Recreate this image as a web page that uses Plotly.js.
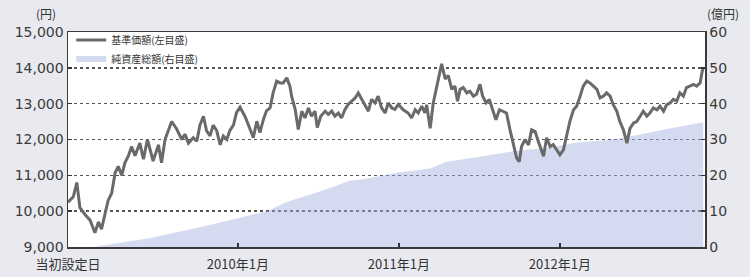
<!DOCTYPE html>
<html>
<head>
<meta charset="utf-8">
<script src="https://cdn.plot.ly/plotly-3.0.1.min.js"></script>
<style>
html,body{margin:0;padding:0;background:#e9eaf0;}
#chart{width:750px;height:277px;}
</style>
</head>
<body>
<div id="chart"></div>
<script>
const navDates = ["2008-12-12","2008-12-24","2009-01-01","2009-01-08","2009-01-20","2009-01-31","2009-02-11","2009-02-19","2009-02-26","2009-03-06","2009-03-13","2009-03-21","2009-03-29","2009-04-05","2009-04-13","2009-04-20","2009-04-28","2009-05-05","2009-05-13","2009-05-24","2009-06-01","2009-06-10","2009-06-16","2009-06-23","2009-07-05","2009-07-12","2009-07-20","2009-07-27","2009-08-04","2009-08-15","2009-08-27","2009-09-03","2009-09-11","2009-09-22","2009-09-30","2009-10-07","2009-10-15","2009-10-22","2009-10-30","2009-11-06","2009-11-14","2009-11-22","2009-11-29","2009-12-07","2009-12-14","2009-12-22","2009-12-29","2010-01-06","2010-01-17","2010-01-29","2010-02-05","2010-02-13","2010-02-20","2010-02-28","2010-03-07","2010-03-15","2010-03-22","2010-03-30","2010-04-07","2010-04-14","2010-04-22","2010-04-29","2010-05-03","2010-05-11","2010-05-18","2010-05-26","2010-06-02","2010-06-10","2010-06-17","2010-06-25","2010-06-30","2010-07-08","2010-07-18","2010-07-25","2010-08-02","2010-08-09","2010-08-17","2010-08-24","2010-09-01","2010-09-08","2010-09-16","2010-09-24","2010-10-01","2010-10-09","2010-10-16","2010-10-24","2010-10-31","2010-11-08","2010-11-15","2010-11-23","2010-12-01","2010-12-08","2010-12-16","2010-12-23","2010-12-31","2011-01-11","2011-01-22","2011-01-30","2011-02-07","2011-02-14","2011-02-22","2011-03-01","2011-03-05","2011-03-13","2011-03-20","2011-03-28","2011-04-03","2011-04-08","2011-04-16","2011-04-23","2011-05-01","2011-05-08","2011-05-14","2011-05-20","2011-05-27","2011-06-04","2011-06-11","2011-06-19","2011-06-26","2011-07-04","2011-07-10","2011-07-18","2011-07-25","2011-08-02","2011-08-09","2011-08-17","2011-08-26","2011-09-02","2011-09-10","2011-09-18","2011-09-25","2011-10-01","2011-10-06","2011-10-14","2011-10-22","2011-10-29","2011-11-06","2011-11-13","2011-11-21","2011-11-25","2011-12-02","2011-12-10","2011-12-17","2011-12-25","2012-01-01","2012-01-09","2012-01-17","2012-01-24","2012-02-01","2012-02-08","2012-02-16","2012-02-23","2012-03-02","2012-03-09","2012-03-17","2012-03-25","2012-04-01","2012-04-09","2012-04-16","2012-04-24","2012-05-01","2012-05-09","2012-05-16","2012-05-24","2012-06-01","2012-06-08","2012-06-16","2012-06-23","2012-07-01","2012-07-08","2012-07-16","2012-07-23","2012-07-31","2012-08-08","2012-08-15","2012-08-23","2012-08-30","2012-09-07","2012-09-14","2012-09-22","2012-09-29","2012-10-07","2012-10-14","2012-10-22","2012-10-30","2012-11-06","2012-11-14","2012-11-18","2012-11-21"];
const navValues = [10250,10400,10800,10100,9900,9750,9400,9700,9500,9950,10300,10500,11080,11250,11000,11350,11550,11800,11550,11900,11450,12000,11700,11400,11850,11350,12000,12250,12500,12300,12000,12150,11900,12050,11950,12400,12650,12250,12100,12400,12250,11850,12100,12000,12250,12400,12750,12900,12650,12280,12050,12510,12190,12560,12800,12880,13300,13630,13580,13580,13720,13490,13200,12840,12280,12790,12600,12880,12650,12790,12330,12650,12790,12700,12790,12650,12740,12600,12840,12980,13070,13160,13300,13120,12980,12790,13120,13020,13210,12880,12740,13020,12880,12840,12980,12830,12740,12600,12830,12740,12930,12740,12970,12310,13020,13490,13870,14110,13690,13790,13400,13490,13070,13400,13450,13300,13350,13210,13260,13540,13210,13020,13120,12830,12550,12830,12790,12740,12270,11800,11480,11380,11800,12000,11850,12270,12220,11950,11670,11530,12050,11800,11860,11710,11570,11710,12190,12520,12830,12930,13210,13490,13630,13580,13490,13400,13160,13210,13300,13210,12970,12790,12500,12270,11900,12310,12460,12500,12650,12790,12650,12740,12880,12830,12930,12790,12970,13020,13120,13070,13300,13210,13450,13490,13540,13490,13580,13870,14000];

const assetDates = ["2008-12-12","2009-02-07","2009-06-17","2009-10-07","2010-01-01","2010-03-08","2010-04-20","2010-07-06","2010-09-12","2010-10-16","2010-11-28","2010-12-31","2011-03-13","2011-04-20","2011-07-04","2011-09-17","2011-12-03","2012-01-31","2012-05-01","2012-07-01","2012-08-31","2012-11-21"];
const assetValues = [0,0,2.5,5.5,8,10,12.5,15.5,18.5,19,20,20.8,21.9,23.8,25.2,26.7,27.6,29,30,31.4,32.9,34.8];

const xTickVals = ["2008-12-12","2010-01-01","2011-01-01","2012-01-01"];
const xTickText = ["当初設定日","2010年1月","2011年1月","2012年1月"];
const leftTicks = [9000,10000,11000,12000,13000,14000,15000];
const rightTicks = [0,10,20,30,40,50,60];
const seriesNames = ["基準価額(左目盛)","純資産総額(右目盛)"];

const NFONT = "'DejaVu Sans', 'Liberation Sans', sans-serif";
const JFONT = "'Noto Sans CJK JP', 'Liberation Sans', sans-serif";

const data = [
  {
    x: navDates, y: navValues, yaxis: "y2", type: "scatter", mode: "lines",
    name: seriesNames[0],
    line: {color: "#6a6a6a", width: 3}
  },
  {
    x: assetDates, y: assetValues, yaxis: "y", type: "scatter", mode: "none",
    fill: "tozeroy", fillcolor: "rgba(160,172,222,0.45)",
    name: seriesNames[1]
  }
];

const layout = {
  width: 750, height: 277,
  margin: {l: 68, r: 45, t: 32, b: 30},
  paper_bgcolor: "#e9eaf0",
  plot_bgcolor: "#ffffff",
  showlegend: true,
  legend: {
    x: 0.005, y: 1.03, xanchor: "left", yanchor: "top",
    bgcolor: "rgba(0,0,0,0)",
    font: {family: JFONT, size: 10, color: "#333"},
    tracegroupgap: 0, itemwidth: 30
  },
  xaxis: {
    type: "date",
    range: ["2008-12-12", "2012-11-25"],
    tickmode: "array", tickvals: xTickVals, ticktext: xTickText,
    ticks: "inside", ticklen: 4, tickcolor: "#333", tickwidth: 1.5,
    ticklabelstandoff: 5,
    showgrid: false, zeroline: false,
    showline: true, linecolor: "#3a3a3a", linewidth: 1.5, mirror: true,
    tickfont: {family: JFONT, size: 13, color: "#333"}
  },
  yaxis: {
    side: "right",
    range: [0, 60],
    tickmode: "array", tickvals: rightTicks,
    ticks: "inside", ticklen: 4, tickcolor: "#333", tickwidth: 1.5,
    showgrid: false, zeroline: false,
    showline: true, linecolor: "#3a3a3a", linewidth: 1.5,
    tickfont: {family: NFONT, size: 14, color: "#3a3a3a"}
  },
  yaxis2: {
    overlaying: "y", side: "left",
    range: [9000, 15000],
    tickmode: "array", tickvals: leftTicks, tickformat: ",",
    ticks: "inside", ticklen: 4, tickcolor: "#333", tickwidth: 1.5,
    showgrid: true, gridcolor: "#555", gridwidth: 1.5, griddash: "dot",
    zeroline: false,
    showline: true, linecolor: "#3a3a3a", linewidth: 1.5,
    tickfont: {family: NFONT, size: 14, color: "#3a3a3a"}
  },
  annotations: [
    {text: "(円)", xref: "paper", yref: "paper", x: 0, y: 1, xanchor: "right", yanchor: "bottom",
     xshift: -10, yshift: 8, showarrow: false, font: {family: JFONT, size: 12, color: "#333"}},
    {text: "(億円)", xref: "paper", yref: "paper", x: 1, y: 1, xanchor: "left", yanchor: "bottom",
     xshift: 0, yshift: 8, showarrow: false, font: {family: JFONT, size: 12, color: "#333"}}
  ]
};

Plotly.newPlot("chart", data, layout, {staticPlot: true, displayModeBar: false});
</script>
</body>
</html>
